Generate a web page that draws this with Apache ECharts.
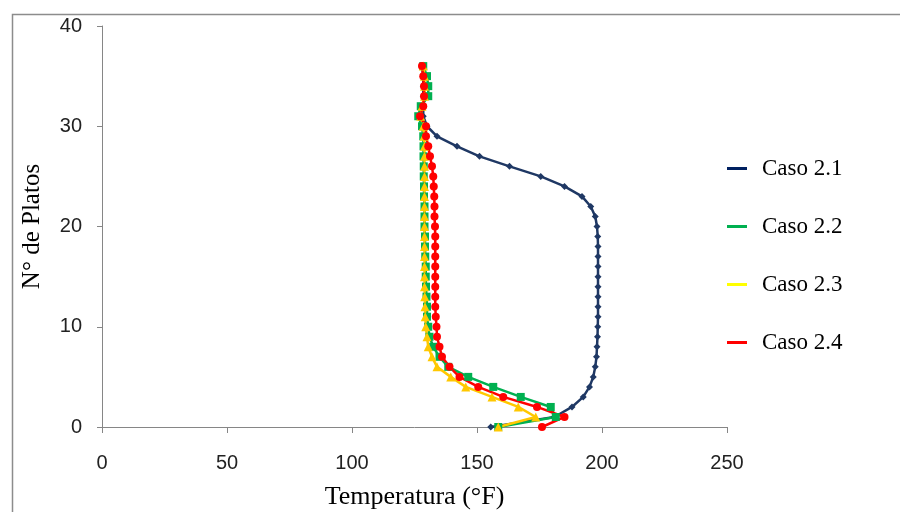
<!DOCTYPE html>
<html>
<head>
<meta charset="utf-8">
<script src="https://cdn.jsdelivr.net/npm/echarts@6/dist/echarts.min.js"></script>
<style>
html,body{margin:0;padding:0;background:#fff;}
#chart{width:900px;height:512px;}
</style>
</head>
<body>
<div id="chart"></div>
<script>
// numero de plato (eje y)
var plates = [0,1,2,3,4,5,6,7,8,9,10,11,12,13,14,15,16,17,18,19,20,21,22,23,24,25,26,27,28,29,30,31,32,33,34,35,36];
// temperatura (F) por plato
var caso21 = [155.5,181,188,192.5,195,196.5,197.3,197.8,198,198.2,198.3,198.4,198.4,198.4,198.4,198.4,198.4,198.4,198.4,198.3,198,197.3,195.5,192,185,175.5,163,151,142,134,130,128.5,128.5,128.5,128.5,128.5,128];
var caso22 = [158.5,181.5,179.5,167.5,156.5,146.5,138.5,135,132.5,131,130.5,130,130,129.8,129.6,129.5,129.5,129.3,129.2,129.2,129,129,129,128.8,128.8,128.7,128.7,128.6,128.6,128.5,128,126.5,127.5,130.5,130.5,130,128.5];
var caso23 = [158.5,173.5,166.5,156,145.5,139.5,134,132,130.5,130,129.5,129.3,129.2,129.1,129,129,129,129,129,129,129,129,129,129,129,129,129,129,129,128.8,128.5,127.5,128,129,129,129,128.5];
var caso24 = [176,185,174,160.5,150.5,143,139,136,135,134,133.8,133.5,133.3,133.3,133.3,133.3,133.3,133.3,133.3,133.3,133.2,133,133,132.9,132.7,132.5,132,131.2,130.5,129.6,129.6,127.2,128.5,128.8,128.8,128.5,128];
var xTicks = [0,50,100,150,200,250];
var yTicks = [0,10,20,30,40];

var serif = 'Liberation Serif';
var sans = 'Liberation Sans';

function pairs(temps){
	return plates.map(function(n,i){ return [temps[i], n]; });
}

function mkSeries(name, temps, color, symbol, size){
	return {
		name: name, type: 'line', data: pairs(temps),
		symbol: symbol, symbolSize: size, showSymbol: true,
		itemStyle: {color: color},
		lineStyle: {color: color, width: 2.5},
		emphasis: {disabled: true},
		animation: false
	};
}

var chart = echarts.init(document.getElementById('chart'));
chart.setOption({
	backgroundColor: '#fff',
	animation: false,
	graphic: [{
		type: 'rect', left: 10, top: 12,
		shape: {x: 0, y: 0, width: 900, height: 520},
		style: {fill: 'none', stroke: '#8c8c8c', lineWidth: 1.5},
		silent: true
	}],
	grid: {left: 102, right: 173, top: 26, bottom: 85, outerBoundsMode: 'none', containLabel: false},
	legend: {
		orient: 'vertical', left: 727, top: 157, padding: 0,
		itemWidth: 20, itemHeight: 3, itemGap: 35,
		icon: 'rect',
		textStyle: {fontFamily: serif, fontSize: 23, color: '#000', padding: [0,0,0,10]},
		data: [
			{name: 'Caso 2.1', itemStyle: {color: '#002060'}},
			{name: 'Caso 2.2', itemStyle: {color: '#00B050'}},
			{name: 'Caso 2.3', itemStyle: {color: '#FFFF00'}},
			{name: 'Caso 2.4', itemStyle: {color: '#FF0000'}}
		]
	},
	xAxis: {
		type: 'value', min: xTicks[0], max: xTicks[xTicks.length-1], interval: 50,
		name: 'Temperatura (°F)', nameLocation: 'middle', nameGap: 57,
		nameTextStyle: {fontFamily: serif, fontSize: 26, color: '#000'},
		axisLine: {show: true, lineStyle: {color: '#868686', width: 1}},
		axisTick: {show: true, inside: false, length: 6, lineStyle: {color: '#868686'}},
		axisLabel: {fontFamily: sans, fontSize: 20, color: '#222', margin: 26},
		splitLine: {show: false}
	},
	yAxis: {
		type: 'value', min: yTicks[0], max: yTicks[yTicks.length-1], interval: 10,
		name: 'N° de Platos', nameLocation: 'middle', nameGap: 57,
		nameTextStyle: {fontFamily: serif, fontSize: 25, color: '#000'},
		axisLine: {show: true, lineStyle: {color: '#868686', width: 1}},
		axisTick: {show: true, inside: false, length: 5, lineStyle: {color: '#868686'}},
		axisLabel: {fontFamily: sans, fontSize: 20, color: '#222', margin: 20},
		splitLine: {show: false}
	},
	series: [
		mkSeries('Caso 2.1', caso21, '#1F3864', 'diamond', 7),
		mkSeries('Caso 2.2', caso22, '#00B050', 'rect', 8),
		mkSeries('Caso 2.3', caso23, '#FFC800', 'triangle', 9),
		mkSeries('Caso 2.4', caso24, '#FF0000', 'circle', 8)
	]
});
</script>
</body>
</html>
